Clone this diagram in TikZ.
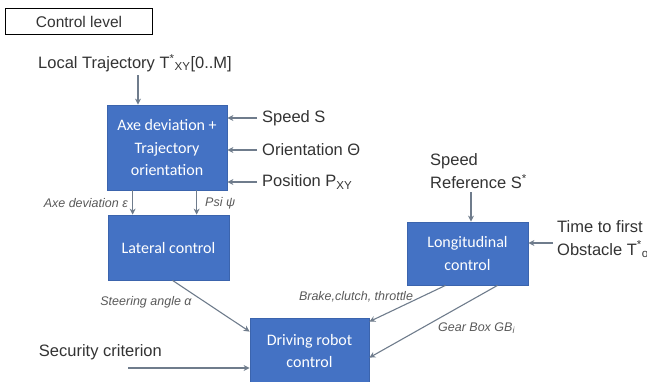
\documentclass[tikz,border=0pt]{standalone}
\usepackage{fontspec}
\setmainfont{Liberation Sans}
\newfontfamily\boxfont{Carlito}
\usetikzlibrary{arrows.meta}
\definecolor{boxblue}{HTML}{4472C4}
\definecolor{boxedge}{HTML}{3B64AD}
\definecolor{wirecol}{HTML}{6F7C8C}
\definecolor{inkgray}{HTML}{333333}
\begin{document}
\begin{tikzpicture}[x=1pt,y=-1pt,
  block/.style={draw=boxedge, fill=boxblue, line width=0.8pt, text=white,
    font=\boxfont\fontsize{16}{22.5}\selectfont, align=center, inner sep=0pt},
  lbl/.style={font=\fontsize{16.5}{23}\selectfont, text=inkgray, inner sep=0pt},
  sig/.style={font=\itshape\fontsize{12.5}{14}\selectfont, text=black!65, inner sep=0pt},
  wire/.style={draw=wirecol, line width=1.1pt, -{Stealth[length=6pt,width=6pt]}}]

\useasboundingbox (0,0) rectangle (647,381);

% title box
\node[draw=black, line width=1.1pt, minimum width=147pt, minimum height=26pt,
  anchor=north west, inner sep=0pt, font=\fontsize{15.5}{17}\selectfont, text=inkgray]
  (lvl) at (5,8) {Control level\hspace{10pt}};

% processing blocks
\node[block, minimum width=120pt, minimum height=85pt] (axe) at (167,147.5)
  {Axe deviation +\\Trajectory\\orientation};
\node[block, minimum width=121pt, minimum height=65pt] (lat) at (168.5,247.5)
  {Lateral control};
\node[block, minimum width=121pt, minimum height=63pt] (lon) at (467.5,253.5)
  {Longitudinal\\control};
\node[block, minimum width=119pt, minimum height=66pt] (drv) at (309.5,351)
  {Driving robot\\control};

% inputs
\node[lbl, anchor=west] (traj) at (38,63)
  {Local Trajectory T\textsuperscript{*}\textsubscript{XY}[0..M]};
\coordinate (trajout) at (138,75);
\node[lbl, anchor=west] (spd) at (262,118) {Speed S};
\node[lbl, anchor=west] (ori) at (262,150) {Orientation Θ};
\node[lbl, anchor=west] (pos) at (262,182) {Position P\textsubscript{XY}};
\node[lbl, align=left, anchor=west] (sref) at (430,171) {Speed\\Reference S\textsuperscript{*}};
\coordinate (srefout) at (471,192);
\node[lbl, align=left, anchor=west] (tfo) at (557,239)
  {Time to first\\Obstacle T\textsuperscript{*}\textsubscript{obs}};
\node[lbl, anchor=east] (sec) at (162,352) {Security criterion};
\coordinate (secin) at (128,368);

% connectors
\draw[wire] (trajout) -- (trajout |- axe.north);
\draw[wire] ([xshift=-5pt]spd.west) -- (spd.west -| axe.east);
\draw[wire] ([xshift=-5pt]ori.west) -- (ori.west -| axe.east);
\draw[wire] ([xshift=-5pt]pos.west) -- (pos.west -| axe.east);

\draw[wire] ([xshift=26pt]axe.south west) -- ([xshift=26pt]axe.south west |- lat.north);
\draw[wire] ([xshift=90pt]axe.south west) -- ([xshift=90pt]axe.south west |- lat.north);
\node[sig, anchor=east] (axelbl) at (128,203) {Axe deviation ε};
\node[sig, anchor=west] (psilbl) at (205,203) {Psi ψ};

\draw[wire] ([xshift=4pt]lat.south) -- ([yshift=-14pt]drv.north west);
\node[sig] (steer) at (146,302) {Steering angle α};
\draw[wire] (secin) -- (secin -| drv.west);

\draw[wire] (srefout) -- (srefout |- lon.north);
\draw[wire] ([xshift=-4pt,yshift=-4pt]tfo.west) -- ([yshift=-4pt]tfo.west -| lon.east);

\draw[wire] ([xshift=-22pt]lon.south) -- ([yshift=-4pt]drv.north east);
\node[sig] (brake) at (356,297) {Brake,clutch, throttle};
\draw[wire] ([xshift=30pt]lon.south) -- ([yshift=-40pt]drv.north east);
\node[sig, anchor=west] (gear) at (438,328) {Gear Box GB\textsubscript{i}};
\end{tikzpicture}
\end{document}
